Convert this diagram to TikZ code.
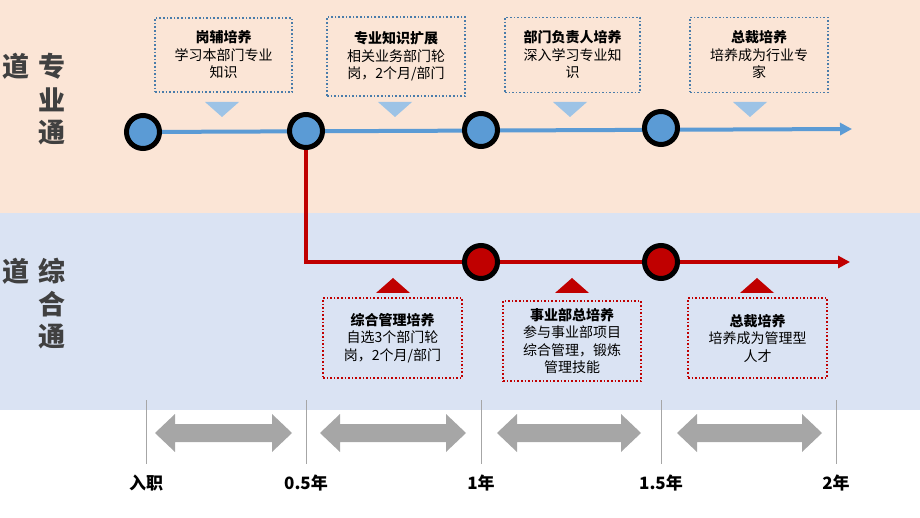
\documentclass[tikz,border=0pt]{standalone}
\usepackage{fontspec}
\setmainfont{Noto Sans CJK SC}
\usetikzlibrary{arrows.meta}
\definecolor{peach}{HTML}{FBE5D6}
\definecolor{lblue}{HTML}{DAE3F3}
\definecolor{mblue}{HTML}{5B9BD5}
\definecolor{tblue}{HTML}{9DC3E6}
\definecolor{bred}{HTML}{C00000}
\definecolor{dgray}{HTML}{404040}
\definecolor{agray}{HTML}{A6A6A6}
\begin{document}
\begin{tikzpicture}[x=1pt,y=-1pt,
 box/.style={draw,dotted,line width=1.6pt,minimum width=138pt,minimum height=78pt,align=center,font=\fontsize{14}{17.5}\selectfont,text=black,inner sep=2pt},
 tbox/.style={box,draw=mblue!80!black},
 rbox/.style={box,draw=bred},
 bcirc/.style={circle,draw=black,line width=5pt,fill=mblue,minimum size=33pt,inner sep=0pt},
 rcirc/.style={circle,draw=black,line width=5pt,fill=bred,minimum size=33pt,inner sep=0pt},
 side/.style={font=\fontsize{27}{27}\selectfont\bfseries,text=dgray,inner sep=0pt},
 yr/.style={font=\fontsize{17}{17}\selectfont\bfseries,text=black,inner sep=0pt},
 tick/.style={draw=agray,line width=0.8pt}]
\useasboundingbox (0,0) rectangle (920,518);
\fill[peach] (0,0) rectangle (920,213);
\fill[lblue] (0,213) rectangle (920,410);
\node[side] (d1) at (16,66) {道};
\node[side] (z1) at (52,66) {专};
\node[side] (z2) at (52,100) {业};
\node[side] (z3) at (52,133) {通};
\node[side] (d2) at (16,271) {道};
\node[side] (c1) at (52,271) {综};
\node[side] (c2) at (52,304) {合};
\node[side] (c3) at (52,337) {通};
\coordinate (bend) at (306,262);
\coordinate (redEnd) at (850,262);
\coordinate (blueEnd) at (852,129);
\coordinate (b0) at (143,132);
\coordinate (rs) at (306,132);
\draw[mblue,line width=4pt,-{Triangle[length=12pt,width=12pt]}] (b0) -- (blueEnd);
\draw[bred,line width=3.5pt,-{Triangle[length=12pt,width=12pt]}] (rs) -- (bend) -- (redEnd);
\node[bcirc] (n0) at (143,132) {};
\node[bcirc] (n1) at (306,131) {};
\node[bcirc] (n2) at (481,130) {};
\node[bcirc] (n3) at (661,128) {};
\node[rcirc] (r1) at (481,262) {};
\node[rcirc] (r2) at (661,262) {};
\node[tbox,minimum width=137pt,minimum height=74pt] (t1) at (223.5,55) {\textbf{岗辅培养}\\学习本部门专业\\知识};
\node[tbox,minimum height=79pt] (t2) at (396,56.5) {\textbf{专业知识扩展}\\相关业务部门轮\\岗，2个月/部门};
\node[tbox,minimum width=135pt,minimum height=75pt] (t3) at (572.5,55) {\textbf{部门负责人培养}\\深入学习专业知\\识};
\node[tbox,minimum height=75pt] (t4) at (759,55) {\textbf{总裁培养}\\培养成为行业专\\家};
\foreach \x in {222,395,570,750}
  \fill[tblue] (\x-17,102) -- (\x+17,102) -- (\x,117) -- cycle;
\node[rbox,minimum width=139pt,minimum height=80pt] (s1) at (392.5,338) {\textbf{综合管理培养}\\自选3个部门轮\\岗，2个月/部门};
\node[rbox,minimum width=138pt,minimum height=80pt] (s2) at (572,341) {\textbf{事业部总培养}\\参与事业部项目\\综合管理，锻炼\\管理技能};
\node[rbox,minimum width=139pt,minimum height=80pt] (s3) at (757.5,338) {\textbf{总裁培养}\\培养成为管理型\\人才};
\foreach \x in {393,572,757}
  \fill[bred] (\x-17,293) -- (\x+17,293) -- (\x,278) -- cycle;
\foreach \x in {146,306,481,661,836}
  \draw[tick] (\x,400) -- (\x,464);
\foreach \a/\b in {155/292,320/466,497/641,677/822}
  \fill[agray] (\a,433) -- (\a+20,414) -- (\a+20,424) -- (\b-20,424) -- (\b-20,414) -- (\b,433) -- (\b-20,452) -- (\b-20,442) -- (\a+20,442) -- (\a+20,452) -- cycle;
\node[yr] (y0) at (146,483) {入职};
\node[yr] (y1) at (306,483) {0.5年};
\node[yr] (y2) at (481,483) {1年};
\node[yr] (y3) at (661,483) {1.5年};
\node[yr] (y4) at (836,483) {2年};
\end{tikzpicture}
\end{document}
